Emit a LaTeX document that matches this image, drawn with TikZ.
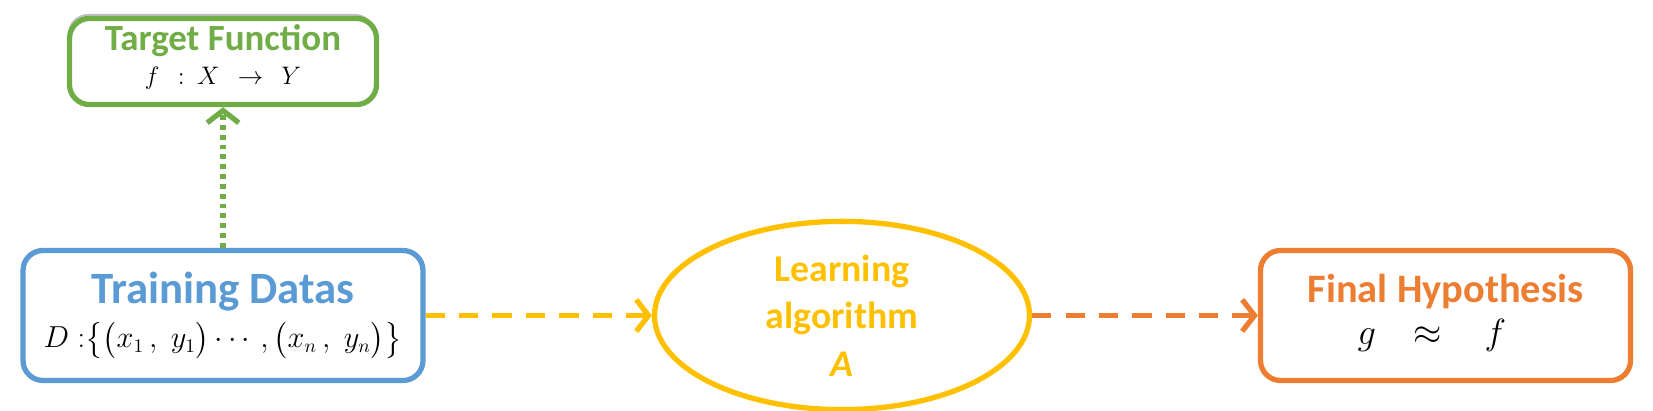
\documentclass[tikz,border=0pt]{standalone}
\usepackage{amsmath}
\usepackage{fontspec}
\setmainfont{Carlito}
\usepackage{xcolor}
\usepackage{tikz}
\usetikzlibrary{arrows.meta,shapes.geometric,shadows}
\definecolor{tgreen}{HTML}{70AD47}
\definecolor{tblue}{HTML}{5B9BD5}
\definecolor{tyellow}{HTML}{FFC000}
\definecolor{torange}{HTML}{ED7D31}

\begin{document}
\begin{tikzpicture}
            \tikzset{box/.style = {draw=#1, text=#1, fill=white, rounded corners=0.4cm, line width=3pt, align=center, font=\bfseries}}
            \tikzset{edge/.style = {line width=3pt, -{Straight Barb[length=7pt,width=18pt]}}}
            \useasboundingbox (0,0) rectangle (33.06,8.2);

            % boxes
            \node[box=tgreen, minimum width=6.14cm, minimum height=1.64cm,
              drop shadow={shadow xshift=-0.3mm, shadow yshift=0.9mm, fill=gray, opacity=0.5}] (target) at (4.46,6.97)
              {{\fontsize{21}{25}\selectfont Target Function}\\[5pt]
               {\color{black}\fontsize{14}{17}\selectfont $f\ \ :\ X\ \ \to\ \ Y$\rule[-8pt]{0pt}{0pt}}};
            \node[box=tblue, minimum width=8cm, minimum height=2.6cm] (train) at (4.46,1.89)
              {{\fontsize{25.5}{30}\selectfont Training Datas}\\[5pt]
               {\color{black}\fontsize{16}{19}\selectfont $D\;\mathbf{:}\bigl\{\bigl(x_1\,,\;y_1\bigr)\cdots,\bigl(x_n\,,\;y_n\bigr)\bigr\}$}};
            \node[draw=tyellow, text=tyellow, ellipse, line width=3pt, minimum width=7.5cm, minimum height=2.94cm,
              align=center, font=\bfseries\fontsize{21.5}{27}\selectfont] (algo) at (16.84,1.89)
              {Learning\\algorithm\\\textit{A}};
            \node[box=torange, minimum width=7.4cm, minimum height=2.6cm] (final) at (28.91,1.89)
              {{\fontsize{23}{27}\selectfont Final Hypothesis}\\[5pt]
               {\color{black}\fontsize{20}{24}\selectfont $g\hspace{0.55cm}\approx\hspace{0.65cm}f\hspace{0.55cm}$\rule[-7pt]{0pt}{0pt}}};

            % edges
            \draw[edge, tgreen, dash pattern=on 2.8pt off 2.8pt] (train) -- (target);
            \draw[edge, tyellow, dash pattern=on 11pt off 8pt] (train) -- (algo);
            \draw[edge, torange, dash pattern=on 11pt off 8pt] (algo) -- (final);

\end{tikzpicture}
\end{document}
